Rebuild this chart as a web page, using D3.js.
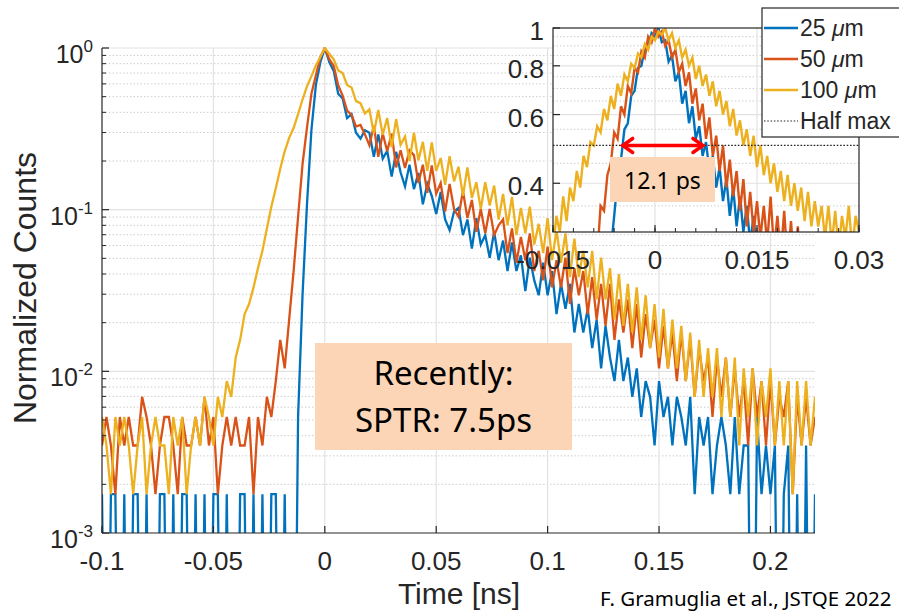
<!DOCTYPE html>
<html>
<head>
<meta charset="utf-8">
<script src="https://cdn.jsdelivr.net/npm/d3@7"></script>
<style>
  body { margin: 0; background: #fff; }
  svg { display: block; }
  text { font-family: "Liberation Sans", Arial, sans-serif; fill: #262626; }
</style>
</head>
<body>
<div id="chart"></div>
<script>
// --- Histogram data (counts per 2 ps bin, starting at -0.1 ns) ---
const tStart = -0.1;
const binWidth = 0.002;

const counts25 = [
  1,0,1,1,0,1,0,1,1,0, 1,0,0,1,1,0,1,0,1,1, 0,1,0,1,0,1,1,0,1,0, 0,1,1,0,1,0,1,0,1,1, 0,1,0,0,
  3,17,62,180,340,470,
  575,470,415,300,280,212,224,172,158,178, 172,122,168,119,133,92,131,98,80,109,
  77,97,62,83,70,54,74,50,43,56, 59,40,50,33,51,35,40,29,42,28,
  37,24,36,24,30,18,29,21,17,27, 17,24,13,20,14,20,10,15,10,14,
  8,12,6,11,7,5,9,5,7,4, 6,3,5,4,2,5,3,4,2,4,
  3,2,4,1,3,2,3,1,2,3, 2,1,3,1,2,2,0,3,1,2,
  1,2,0,1,2,0,1,0,2,0, 1
];

const counts50 = [
  2,3,2,1,3,2,3,2,2,4, 3,2,1,2,3,3,2,1,3,2, 2,3,2,4,2,3,1,2,3,2, 3,2,2,3,1,3,2,4,3,
  5,9,6,12,24,52,110,185,300,390,505,
  575,490,445,338,292,236,222,188,192,168, 144,190,122,170,132,170,105,134,104,134,
  125,84,109,73,108,72,84,56,83,58, 52,75,51,66,42,58,41,58,40,46,
  50,31,44,27,39,28,41,24,32,21, 34,19,28,19,29,15,25,17,24,13,
  22,12,20,11,20,9,16,10,16,8, 15,7,13,8,12,6,11,6,10,5,
  10,5,9,4,8,5,7,3,7,4, 7,3,6,3,5,2,6,3,5,2,
  5,2,4,3,5,1,4,2,4,2, 3
];

const counts100 = [
  3,2,1,3,2,3,2,1,2,3, 1,2,3,2,2,1,3,2,3,1, 2,3,2,4,3,2,4,
  3,5,4,7,9,13,15,19,25,32,44,60,78,103,132,160,184,224,276,333,385,448,506,
  575,530,490,418,402,340,328,270,262,226, 240,170,238,167,212,140,209,145,163,115,
  172,116,151,100,150,100,120,82,123,86, 106,70,105,68,85,58,85,61,81,50,
  72,46,69,40,59,41,60,35,47,31, 51,28,43,27,41,22,38,22,32,19,
  32,16,29,16,25,12,23,11,20,10, 19,9,17,8,15,7,14,6,12,6,
  11,5,10,4,9,4,8,4,8,3, 7,3,7,2,6,3,6,2,5,3,
  6,2,5,2,5,1,5,2,5,2, 4
];

// --- Inset data (normalized, 0.5 ps bins, starting at -0.015 ns) ---
const insetStart = -0.015;
const insetBin = 0.0005;

const inset25 = [
  0.01,0.01,0.01,0.01,0.01,0.01,0.01,0.02,0.02,0.03,0.04,0.05,0.07,0.09,
  0.11,0.16,0.21,0.27,0.33,0.41,0.46,0.55,0.57,0.67,
  0.69,0.79,0.80,0.89,0.90,0.97,0.95,1.00,0.92,0.93,
  0.82,0.85,0.73,0.77,0.64,0.69,0.57,0.63,0.52,0.56,
  0.47,0.51,0.43,0.47,0.39,0.44,0.36,0.41,0.33,0.39,
  0.31,0.37,0.30,0.35,0.28,0.33,0.26,0.31,0.25,
  0.29,0.24,0.27,0.23,0.26,0.22,0.25,0.21,0.24,0.20,
  0.23,0.19,0.22,0.19,0.21,0.18,0.20,0.17,0.19,0.17,
  0.18,0.16,0.17,0.16,0.17,0.15,0.16,0.15
];

const inset50 = [
  0.04,0.05,0.05,0.06,0.07,0.08,0.09,0.11,0.12,0.14,0.17,0.19,0.22,
  0.26,0.35,0.34,0.42,0.45,0.54,0.52,0.63,0.60,0.71,
  0.68,0.79,0.77,0.87,0.84,0.95,0.92,1.00,0.95,0.98,
  0.90,0.93,0.84,0.88,0.77,0.81,0.71,0.77,0.64,0.70,
  0.58,0.64,0.52,0.59,0.47,0.53,0.43,0.50,0.39,0.46,
  0.37,0.43,0.34,0.41,0.31,0.38,0.30,0.36,0.29,0.35,
  0.28,0.37,0.27,0.33,0.26,0.34,0.25,0.32,0.24,0.31,
  0.23,0.28,
  0.22,0.27,0.21,0.26,0.20,0.25,0.19,0.24,0.19,0.23,0.18,0.22,0.18,0.21,0.17,0.20
];

const inset100 = [
  0.27,0.33,0.30,0.37,0.32,0.39,0.36,0.43,0.39,0.47,
  0.44,0.51,0.50,0.56,0.54,0.62,0.58,0.67,0.62,0.72,
  0.67,0.76,0.73,0.81,0.79,0.86,0.84,0.91,0.88,0.95,
  0.93,0.98,0.96,1.00,0.93,0.97,0.89,0.93,0.84,0.88,
  0.80,0.84,0.74,0.80,0.71,0.76,0.67,0.73,0.63,0.69,
  0.60,0.65,0.56,0.62,0.53,0.58,0.50,0.55,0.47,0.53,
  0.44,0.50,0.42,0.47,0.40,0.45,0.38,0.43,0.36,0.42,
  0.35,0.40,0.34,0.39,0.32,0.38,0.31,0.36,0.31,0.35,
  0.29,0.35,0.28,0.34,0.27,0.33,0.29,0.35,0.27,0.33,
  0.30
];

const seriesLabels = ["25 ", "50 ", "100 "];
const seriesColors = ["#0072BD", "#D95319", "#EDB120"];
const xTicks = [-0.1, -0.05, 0, 0.05, 0.1, 0.15, 0.2];
const yTickExps = [0, -1, -2, -3];
const insetXTicks = [-0.015, 0, 0.015, 0.03];
const insetYTicks = [0.4, 0.6, 0.8, 1];
const halfMax = 0.5;
const fwhmEdges = [-0.0049, 0.0072];

// --- Setup ---
const width = 899;
const height = 612;
const axisColor = "#262626";
const gridColor = "#e2e2e2";
const minorColor = "#cdcdcd";

const svg = d3.select("#chart")
  .append("svg")
  .attr("width", width)
  .attr("height", height);

const x = d3.scaleLinear().domain([-0.1, 0.22]).range([102, 815]);
const y = d3.scaleLog().domain([1e-3, 1]).range([533, 48]);

const xi = d3.scaleLinear().domain([-0.015, 0.03]).range([553, 859]);
const yi = d3.scaleLog().domain([0.3, 1]).range([232, 28]);

svg.append("defs").append("clipPath").attr("id", "clipMain")
  .append("rect")
  .attr("x", x.range()[0]).attr("y", y.range()[1] - 1)
  .attr("width", x.range()[1] - x.range()[0])
  .attr("height", y.range()[0] - y.range()[1] + 1);

svg.select("defs").append("clipPath").attr("id", "clipInset")
  .append("rect")
  .attr("x", xi.range()[0]).attr("y", yi.range()[1])
  .attr("width", xi.range()[1] - xi.range()[0])
  .attr("height", yi.range()[0] - yi.range()[1]);

// --- Main grid ---
const minorY = [];
[-3, -2, -1].forEach(e => d3.range(2, 10).forEach(m => minorY.push(m * Math.pow(10, e))));

const grid = svg.append("g");
grid.selectAll(".minor").data(minorY).enter().append("line")
  .attr("x1", x.range()[0]).attr("x2", x.range()[1])
  .attr("y1", d => y(d)).attr("y2", d => y(d))
  .attr("stroke", minorColor).attr("stroke-width", 1)
  .attr("stroke-dasharray", "1.5,2");

grid.selectAll(".majorY").data(yTickExps.filter(e => e > -3)).enter().append("line")
  .attr("x1", x.range()[0]).attr("x2", x.range()[1])
  .attr("y1", e => y(Math.pow(10, e))).attr("y2", e => y(Math.pow(10, e)))
  .attr("stroke", gridColor).attr("stroke-width", 1.2);

grid.selectAll(".majorX").data(xTicks.filter(t => t > -0.1)).enter().append("line")
  .attr("x1", d => x(d)).attr("x2", d => x(d))
  .attr("y1", y.range()[1]).attr("y2", y.range()[0])
  .attr("stroke", gridColor).attr("stroke-width", 1.2);

// --- Main curves ---
const curves = svg.append("g").attr("clip-path", "url(#clipMain)");
[counts25, counts50, counts100].forEach((s, k) => {
  const peak = d3.max(s);
  const gen = d3.line()
    .x((c, i) => x(tStart + i * binWidth))
    .y(c => y(c > 0 ? c / peak : 1e-5));
  curves.append("path")
    .attr("d", gen(s))
    .attr("fill", "none")
    .attr("stroke", seriesColors[k])
    .attr("stroke-width", 2.3);
});

// --- Main axes ---
const axes = svg.append("g");
axes.append("line")
  .attr("x1", x.range()[0]).attr("x2", x.range()[0])
  .attr("y1", y.range()[1]).attr("y2", y.range()[0])
  .attr("stroke", axisColor).attr("stroke-width", 1.2);
axes.append("line")
  .attr("x1", x.range()[0]).attr("x2", x.range()[1])
  .attr("y1", y.range()[0]).attr("y2", y.range()[0])
  .attr("stroke", axisColor).attr("stroke-width", 1.2);

axes.selectAll(".ytick").data(yTickExps).enter().append("line")
  .attr("x1", x.range()[0]).attr("x2", x.range()[0] + 7)
  .attr("y1", e => y(Math.pow(10, e))).attr("y2", e => y(Math.pow(10, e)))
  .attr("stroke", axisColor).attr("stroke-width", 1.2);
axes.selectAll(".yminor").data(minorY).enter().append("line")
  .attr("x1", x.range()[0]).attr("x2", x.range()[0] + 4)
  .attr("y1", d => y(d)).attr("y2", d => y(d))
  .attr("stroke", axisColor).attr("stroke-width", 1);
axes.selectAll(".xtick").data(xTicks).enter().append("line")
  .attr("x1", d => x(d)).attr("x2", d => x(d))
  .attr("y1", y.range()[0]).attr("y2", y.range()[0] - 7)
  .attr("stroke", axisColor).attr("stroke-width", 1.2);

const yLabels = axes.selectAll(".ylab").data(yTickExps).enter().append("text")
  .attr("x", 93)
  .attr("y", e => y(Math.pow(10, e)) + 15)
  .attr("text-anchor", "end")
  .attr("font-size", 25)
  .text("10");
yLabels.append("tspan")
  .attr("dy", -11)
  .attr("font-size", 17)
  .text(e => String(e));

axes.selectAll(".xlab").data(xTicks).enter().append("text")
  .attr("x", d => x(d))
  .attr("y", 570)
  .attr("text-anchor", "middle")
  .attr("font-size", 26)
  .text(d => String(d));

svg.append("text")
  .attr("x", 459).attr("y", 604)
  .attr("text-anchor", "middle")
  .attr("font-size", 30)
  .text("Time [ns]");

svg.append("text")
  .attr("transform", "translate(36,288) rotate(-90)")
  .attr("text-anchor", "middle")
  .attr("font-size", 32)
  .text("Normalized Counts");

// --- Annotation box (main) ---
svg.append("rect")
  .attr("x", 315).attr("y", 343).attr("width", 257).attr("height", 107)
  .attr("fill", "#FBD5B5");
svg.append("text")
  .attr("x", 443.5).attr("y", 385)
  .attr("text-anchor", "middle")
  .style("font-family", "'Noto Sans', sans-serif")
  .style("fill", "#000")
  .attr("font-size", 33)
  .text("Recently:");
svg.append("text")
  .attr("x", 443.5).attr("y", 432)
  .attr("text-anchor", "middle")
  .style("font-family", "'Noto Sans', sans-serif")
  .style("fill", "#000")
  .attr("font-size", 33)
  .text("SPTR: 7.5ps");

// --- Inset ---
const inset = svg.append("g");
inset.append("rect")
  .attr("x", xi.range()[0]).attr("y", yi.range()[1])
  .attr("width", xi.range()[1] - xi.range()[0])
  .attr("height", yi.range()[0] - yi.range()[1])
  .attr("fill", "#fff");

const insetMinorY = d3.range(0.35, 0.99, 0.05).filter(v => !insetYTicks.some(t => Math.abs(t - v) < 1e-6));
inset.selectAll(".iminor").data(insetMinorY).enter().append("line")
  .attr("x1", xi.range()[0]).attr("x2", xi.range()[1])
  .attr("y1", d => yi(d)).attr("y2", d => yi(d))
  .attr("stroke", minorColor).attr("stroke-dasharray", "1.5,2");
inset.selectAll(".imajorY").data(insetYTicks.filter(t => t < 1)).enter().append("line")
  .attr("x1", xi.range()[0]).attr("x2", xi.range()[1])
  .attr("y1", d => yi(d)).attr("y2", d => yi(d))
  .attr("stroke", gridColor).attr("stroke-width", 1.2);
inset.selectAll(".imajorX").data(insetXTicks.slice(1, -1)).enter().append("line")
  .attr("x1", d => xi(d)).attr("x2", d => xi(d))
  .attr("y1", yi.range()[1]).attr("y2", yi.range()[0])
  .attr("stroke", gridColor).attr("stroke-width", 1.2);

const insetCurves = inset.append("g").attr("clip-path", "url(#clipInset)");
[inset25, inset50, inset100].forEach((s, k) => {
  const gen = d3.line()
    .x((v, i) => xi(insetStart + i * insetBin))
    .y(v => yi(v));
  insetCurves.append("path")
    .attr("d", gen(s))
    .attr("fill", "none")
    .attr("stroke", seriesColors[k])
    .attr("stroke-width", 2.4);
});

insetCurves.append("line")
  .attr("x1", xi.range()[0]).attr("x2", xi.range()[1])
  .attr("y1", yi(halfMax)).attr("y2", yi(halfMax))
  .attr("stroke", "#222").attr("stroke-width", 1.2)
  .attr("stroke-dasharray", "1.5,1.8");

inset.append("rect")
  .attr("x", xi.range()[0]).attr("y", yi.range()[1])
  .attr("width", xi.range()[1] - xi.range()[0])
  .attr("height", yi.range()[0] - yi.range()[1])
  .attr("fill", "none").attr("stroke", axisColor).attr("stroke-width", 1.2);

const insetMinorX = d3.range(-0.015, 0.0301, 0.003);
inset.selectAll(".ixminor").data(insetMinorX).enter().append("line")
  .attr("x1", d => xi(d)).attr("x2", d => xi(d))
  .attr("y1", yi.range()[0]).attr("y2", yi.range()[0] - 4)
  .attr("stroke", axisColor);
inset.selectAll(".ixtick").data(insetXTicks).enter().append("line")
  .attr("x1", d => xi(d)).attr("x2", d => xi(d))
  .attr("y1", yi.range()[0]).attr("y2", yi.range()[0] - 7)
  .attr("stroke", axisColor).attr("stroke-width", 1.2);
inset.selectAll(".iytick").data(insetYTicks).enter().append("line")
  .attr("x1", xi.range()[0]).attr("x2", xi.range()[0] + 7)
  .attr("y1", d => yi(d)).attr("y2", d => yi(d))
  .attr("stroke", axisColor).attr("stroke-width", 1.2);

inset.selectAll(".ixlab").data(insetXTicks).enter().append("text")
  .attr("x", d => xi(d))
  .attr("y", 269)
  .attr("text-anchor", "middle")
  .attr("font-size", 26)
  .text(d => String(d));
inset.selectAll(".iylab").data(insetYTicks).enter().append("text")
  .attr("x", 544)
  .attr("y", d => yi(d) + 12)
  .attr("text-anchor", "end")
  .attr("font-size", 26)
  .text(d => String(d));

// --- FWHM arrow ---
const arrowY = yi(halfMax);
const ax0 = xi(fwhmEdges[0]);
const ax1 = xi(fwhmEdges[1]);
const arrow = svg.append("g")
  .attr("stroke", "#FF0000").attr("stroke-width", 3.5)
  .attr("fill", "none").attr("stroke-linecap", "round");
arrow.append("line").attr("x1", ax0 + 2).attr("x2", ax1 - 2).attr("y1", arrowY).attr("y2", arrowY);
arrow.append("path").attr("d", `M${ax0 + 11},${arrowY - 7} L${ax0 + 1},${arrowY} L${ax0 + 11},${arrowY + 7}`);
arrow.append("path").attr("d", `M${ax1 - 11},${arrowY - 7} L${ax1 - 1},${arrowY} L${ax1 - 11},${arrowY + 7}`);

svg.append("rect")
  .attr("x", 610).attr("y", 157).attr("width", 105).attr("height", 45)
  .attr("fill", "#FBD5B5");
svg.append("text")
  .attr("x", 662.5).attr("y", 189)
  .attr("text-anchor", "middle")
  .style("font-family", "'Noto Sans', sans-serif")
  .style("fill", "#000")
  .attr("font-size", 23)
  .text("12.1 ps");

// --- Legend ---
const legend = svg.append("g");
legend.append("rect")
  .attr("x", 762).attr("y", 8).attr("width", 150).attr("height", 129)
  .attr("fill", "#fff").attr("stroke", axisColor).attr("stroke-width", 1.2);

const legendRows = [28, 59, 90, 121];
seriesLabels.forEach((lab, k) => {
  legend.append("line")
    .attr("x1", 764).attr("x2", 798)
    .attr("y1", legendRows[k]).attr("y2", legendRows[k])
    .attr("stroke", seriesColors[k]).attr("stroke-width", 2.5);
  const t = legend.append("text")
    .attr("x", 800).attr("y", legendRows[k] + 8)
    .attr("font-size", 23)
    .text(lab);
  t.append("tspan").attr("font-style", "italic").text("\u03bc");
  t.append("tspan").text("m");
});
legend.append("line")
  .attr("x1", 764).attr("x2", 798)
  .attr("y1", legendRows[3]).attr("y2", legendRows[3])
  .attr("stroke", "#222").attr("stroke-width", 1.2)
  .attr("stroke-dasharray", "1.5,1.8");
legend.append("text")
  .attr("x", 800).attr("y", legendRows[3] + 8)
  .attr("font-size", 23)
  .text("Half max");

// --- Citation ---
svg.append("text")
  .attr("x", 600).attr("y", 606)
  .style("font-family", "'Noto Sans', sans-serif")
  .style("fill", "#000")
  .attr("font-size", 20.5)
  .text("F. Gramuglia et al., JSTQE 2022");
</script>
</body>
</html>
